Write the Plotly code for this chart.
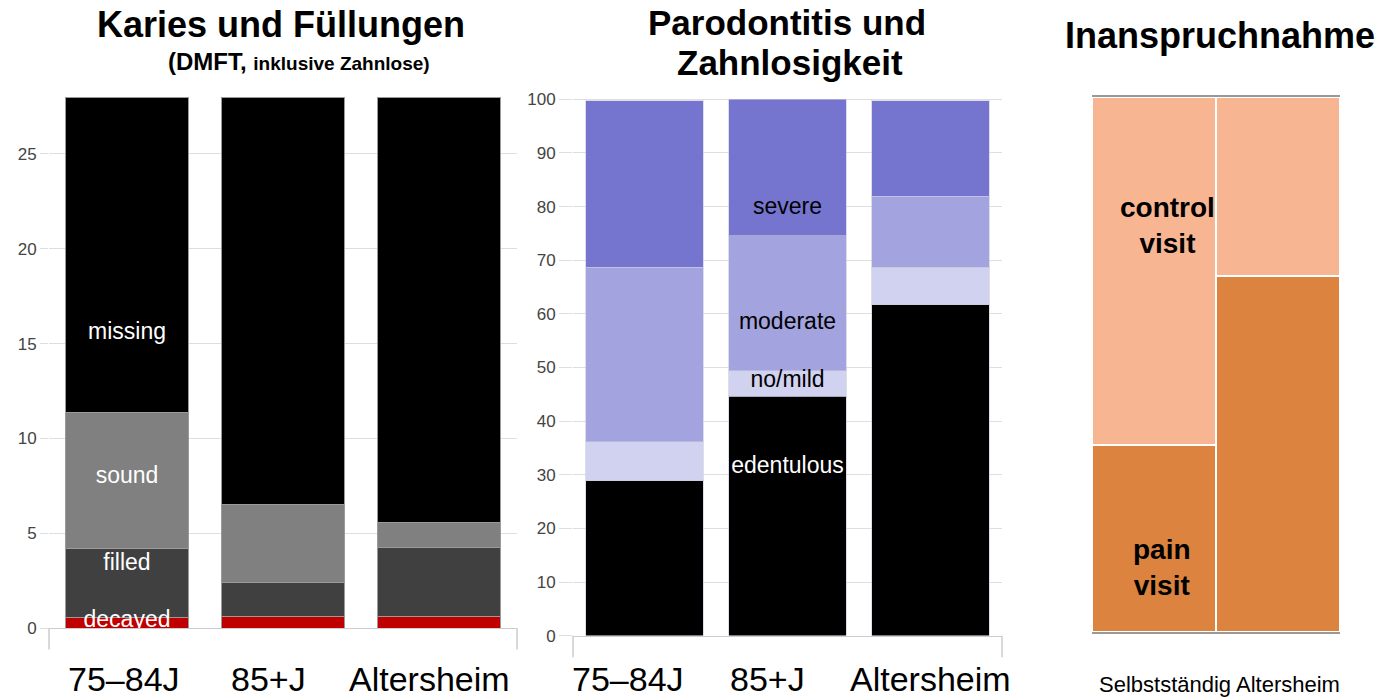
import plotly.graph_objects as go

W, H = 1378, 700
FONT = "Liberation Sans, Arial, sans-serif"

# ---- data ----
cats = ["75–84J", "85+J", "Altersheim"]
decayed = [0.55, 0.63, 0.63]
filled = [3.64, 1.78, 3.59]
sound = [7.2, 4.11, 1.37]
missing = [16.61, 21.48, 22.41]

edentulous = [28.9, 44.6, 61.65]
nomild = [7.3, 4.75, 7.05]
moderate = [32.5, 25.25, 13.2]
severe = [31.0, 25.4, 17.8]

groups = ["Selbstständig", "Altersheim"]
pain = [35.0, 66.6]
control = [65.0, 33.4]

y1_ticks = [0, 5, 10, 15, 20, 25]
y2_ticks = [0, 10, 20, 30, 40, 50, 60, 70, 80, 90, 100]


def px(x):
    return x / W


def py(y):
    return 1 - y / H


fig = go.Figure()

# ---- panel 1 ----
p1 = [("decayed", decayed, "#c00000"), ("filled", filled, "#404040"),
      ("sound", sound, "#808080"), ("missing", missing, "#000000")]
for name, vals, col in p1:
    fig.add_trace(go.Bar(x=cats, y=vals, name=name, width=0.79,
                         marker=dict(color=col, line=dict(color="#9a9a9a", width=1)),
                         xaxis="x", yaxis="y", showlegend=False))

fig.add_trace(go.Scatter(
    x=[cats[0]] * 4, y=[15.56, 7.96, 3.38, 0.37],
    text=["missing", "sound", "filled", "decayed"], mode="text",
    textfont=dict(color="white", size=23, family=FONT),
    cliponaxis=True, xaxis="x", yaxis="y", showlegend=False, hoverinfo="skip"))

# ---- panel 2 ----
p2 = [("edentulous", edentulous, "#000000"), ("no/mild", nomild, "#d1d1f0"),
      ("moderate", moderate, "#a3a3df"), ("severe", severe, "#7575d0")]
for name, vals, col in p2:
    fig.add_trace(go.Bar(x=cats, y=vals, name=name, width=0.825,
                         marker=dict(color=col, line=dict(color="rgba(200,200,220,0.6)", width=1)),
                         xaxis="x2", yaxis="y2", showlegend=False))

fig.add_trace(go.Scatter(
    x=[cats[1]] * 3, y=[79.7, 58.3, 47.5],
    text=["severe", "moderate", "no/mild"], mode="text",
    textfont=dict(color="black", size=23, family=FONT),
    cliponaxis=True, xaxis="x2", yaxis="y2", showlegend=False, hoverinfo="skip"))
fig.add_trace(go.Scatter(
    x=[cats[1]], y=[31.45], text=["edentulous"], mode="text",
    textfont=dict(color="white", size=23, family=FONT),
    cliponaxis=True, xaxis="x2", yaxis="y2", showlegend=False, hoverinfo="skip"))

# ---- panel 3 ----
fig.add_trace(go.Bar(x=groups, y=pain, name="pain visit", width=1,
                     marker=dict(color="#db833f", line=dict(color="white", width=2)),
                     xaxis="x3", yaxis="y3", showlegend=False))
fig.add_trace(go.Bar(x=groups, y=control, name="control visit", width=1,
                     marker=dict(color="#f8b592", line=dict(color="white", width=2)),
                     xaxis="x3", yaxis="y3", showlegend=False))

grid = "#dedede"
tickfont_y = dict(size=17, color="#444", family=FONT)

fig.update_layout(
    width=W, height=H,
    margin=dict(l=0, r=0, t=0, b=0, autoexpand=False),
    paper_bgcolor="white", plot_bgcolor="white",
    barmode="stack",
    font=dict(family=FONT),
    xaxis=dict(domain=[px(49), px(517)], anchor="y", showticklabels=False,
               range=[-0.5, 2.5],
               showline=True, linecolor="#cccccc", linewidth=1, ticks="",
               showgrid=False, automargin=False),
    yaxis=dict(domain=[py(628), py(93.3)], anchor="x", range=[0, 28.2],
               tickvals=y1_ticks, tickfont=tickfont_y, showgrid=True, gridcolor=grid,
               gridwidth=1, ticks="outside", ticklen=8, tickcolor=grid,
               zeroline=False, showline=False, automargin=False),
    xaxis2=dict(domain=[px(573), px(1002)], anchor="y2", showticklabels=False,
                range=[-0.5, 2.5],
                showline=True, linecolor="#cccccc", linewidth=1, ticks="",
                showgrid=False, automargin=False),
    yaxis2=dict(domain=[py(635.7), py(93.9)], anchor="x2", range=[0, 101],
                tickvals=y2_ticks, tickfont=tickfont_y, showgrid=True, gridcolor=grid,
                gridwidth=1, ticks="outside", ticklen=13, tickcolor=grid,
                zeroline=False, showline=False, automargin=False),
    xaxis3=dict(domain=[px(1092), px(1340)], anchor="y3", showticklabels=False,
                showline=True, mirror=True, linecolor="#999999", linewidth=1.5,
                ticks="", showgrid=False, range=[-0.5, 1.5], automargin=False),
    yaxis3=dict(domain=[py(632), py(97)], anchor="x3", range=[0, 100],
                visible=False, automargin=False),
)

# boundary ticks at axis ends (panels 1 and 2)
for xr, yr in [("x domain", "y domain"), ("x2 domain", "y2 domain")]:
    for xv in [0, 1]:
        fig.add_shape(type="line", xref=xr, yref=yr, x0=xv, x1=xv, y0=0, y1=-0.04,
                      line=dict(color="#cccccc", width=1.5))

# category labels under panels 1 and 2
shifts1 = [-3, -15, -10]
shifts2 = [-17, -20, 0]
for xa, shifts in [("x", shifts1), ("x2", shifts2)]:
    for c, s in zip(cats, shifts):
        fig.add_annotation(text=c, x=c, xref=xa, y=py(679), yref="paper",
                           xshift=s, showarrow=False, xanchor="center", yanchor="middle",
                           font=dict(size=34, color="black", family=FONT))

ann = []
ann.append(dict(text="<b>Karies und Füllungen</b>", x=px(281), y=py(25),
                font=dict(size=36, color="black")))
ann.append(dict(text="<b>(DMFT, <span style='font-size:19px'>inklusive Zahnlose)</span></b>",
                x=px(299), y=py(62), font=dict(size=24, color="black")))
ann.append(dict(text="<b>Parodontitis und</b>", x=px(787), y=py(22),
                font=dict(size=35, color="black")))
ann.append(dict(text="<b>Zahnlosigkeit</b>", x=px(790), y=py(63),
                font=dict(size=35, color="black")))
ann.append(dict(text="<b>Inanspruchnahme</b>", x=px(1220), y=py(35),
                font=dict(size=36, color="black")))
ann.append(dict(text="Selbstständig Altersheim", x=px(1219), y=py(684),
                font=dict(size=22, color="black")))
for a in ann:
    a.update(xref="paper", yref="paper", showarrow=False, xanchor="center", yanchor="middle")
    fig.add_annotation(**a)

fig.add_annotation(text="<b>control<br>visit</b>", x=groups[0], y=76, xref="x3", yref="y3",
                   xshift=13, showarrow=False, font=dict(size=28, color="black"))
fig.add_annotation(text="<b>pain<br>visit</b>", x=groups[0], y=12, xref="x3", yref="y3",
                   xshift=8, showarrow=False, font=dict(size=28, color="black"))

fig.write_html("out.html", config=dict(displayModeBar=False),
               post_script="document.body.style.margin='0';document.body.style.overflow='hidden';")
